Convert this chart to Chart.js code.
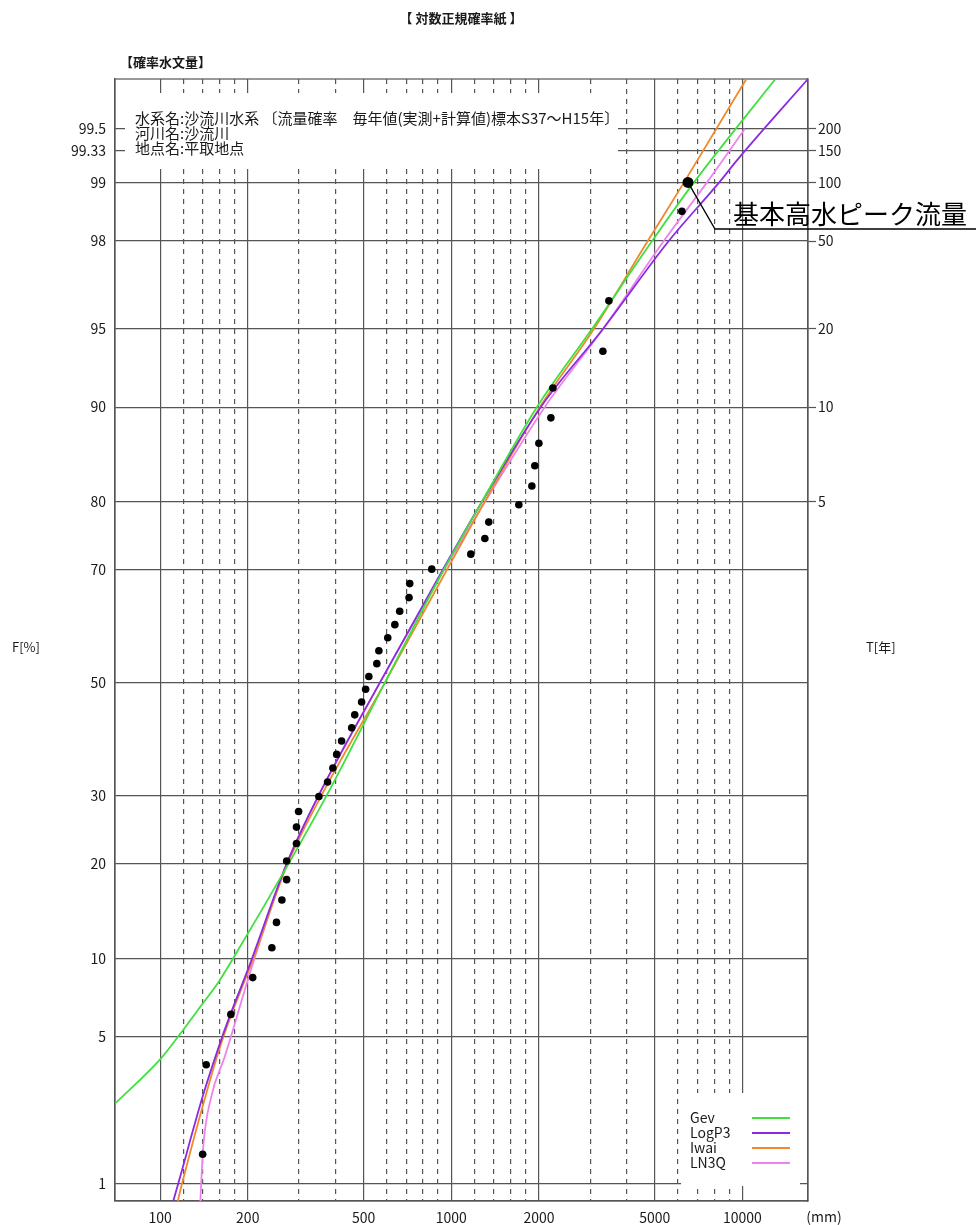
<!DOCTYPE html>
<html lang="ja">
<head>
<meta charset="UTF-8">
<title>対数正規確率紙</title>
<script src="https://cdn.jsdelivr.net/npm/chart.js"></script>
<style>
  body { margin: 0; background: #fff; }
  canvas { display: block; }
</style>
</head>
<body>
<canvas id="paper" width="976" height="1225"></canvas>
<script>
// 観測値 (Cunnane プロット位置 F[%] と流量)
const obsF = [1.42, 3.79, 6.16, 8.53, 10.90, 13.27, 15.64, 18.01, 20.38, 22.75, 25.12, 27.49, 29.86, 32.23,
  34.60, 36.97, 39.34, 41.71, 44.08, 46.45, 48.82, 51.18, 53.55, 55.92, 58.29, 60.66, 63.03, 65.40,
  67.77, 70.14, 72.51, 74.88, 77.25, 79.62, 81.99, 84.36, 86.73, 89.10, 91.47, 93.84, 96.21, 98.58];
const obsQ = [140, 144, 175, 208, 242, 251, 262, 272, 272, 294, 294, 299, 351, 376,
  392, 404, 420, 455, 466, 492, 508, 521, 555, 564, 605, 640, 665, 716,
  720, 857, 1167, 1304, 1345, 1706, 1891, 1936, 1999, 2198, 2233, 3316, 3477, 6196];

// 基本高水ピーク流量
const designF = [99];
const designQ = [6500];

// 確率分布曲線
const gevF = [2.52, 4.0, 4.98, 6.72, 8.24, 10, 20, 30, 50, 70, 80, 90, 95, 98, 99, 99.75];
const gevQ = [70, 100, 115, 139, 159, 178, 276, 373, 591, 941, 1273, 1967, 3040, 4892, 6812, 12973];
const logp3F = [0.8, 1, 2.72, 4.53, 6.13, 9.1, 20, 30, 50, 70, 80, 90, 95, 98, 99, 99.24, 99.75];
const logp3Q = [111, 115.5, 140, 159, 174, 200, 272, 350, 568, 934, 1275, 2028, 3318, 5581, 8320, 9555, 16790];
const iwaiF = [0.8, 1, 3, 5, 10, 20, 30, 50, 70, 80, 90, 95, 98, 99, 99.75];
const iwaiQ = [115, 119, 146, 165, 209, 274, 358, 591, 965, 1302, 2014, 3088, 4727, 6300, 10311];
const ln3qF = [0.8, 1.5, 2.72, 4.11, 5.33, 7.67, 10, 20, 30, 50, 70, 80, 90, 95, 98, 99, 99.5];
const ln3qQ = [137.5, 140.4, 149.9, 166.7, 177.9, 195.3, 211, 272, 350, 568, 944, 1306, 2093, 3318, 5366, 7553, 10193];

// 軸
const xGrid = [100, 120, 140, 160, 180, 200, 300, 400, 500, 600, 700, 800, 900, 1000,
  1200, 1400, 1600, 1800, 2000, 3000, 4000, 5000, 6000, 7000, 8000, 9000, 10000];
const xLabeled = [100, 200, 500, 1000, 2000, 5000, 10000];
const fTicks = [1, 5, 10, 20, 30, 50, 70, 80, 90, 95, 98, 99, 99.33, 99.5];
const tYears = [5, 10, 20, 50, 100, 150, 200];
const xMin = 70, xMax = 16790;
const fMin = 0.8, fMax = 99.75;

// 標準正規分布の逆関数 (Acklam)
function normInv(p) {
  const a = [-3.969683028665376e+01, 2.209460984245205e+02, -2.759285104469687e+02, 1.383577518672690e+02, -3.066479806614716e+01, 2.506628277459239e+00];
  const b = [-5.447609879822406e+01, 1.615858368580409e+02, -1.556989798598866e+02, 6.680131188771972e+01, -1.328068155288572e+01];
  const c = [-7.784894002430293e-03, -3.223964580411365e-01, -2.400758277161838e+00, -2.549732539343734e+00, 4.374664141464968e+00, 2.938163982698783e+00];
  const d = [7.784695709041462e-03, 3.224671290700398e-01, 2.445134137142996e+00, 3.754408661907416e+00];
  const pl = 0.02425;
  if (p < pl) {
    const q = Math.sqrt(-2 * Math.log(p));
    return (((((c[0]*q+c[1])*q+c[2])*q+c[3])*q+c[4])*q+c[5]) / ((((d[0]*q+d[1])*q+d[2])*q+d[3])*q+1);
  }
  if (p > 1 - pl) {
    const q = Math.sqrt(-2 * Math.log(1 - p));
    return -(((((c[0]*q+c[1])*q+c[2])*q+c[3])*q+c[4])*q+c[5]) / ((((d[0]*q+d[1])*q+d[2])*q+d[3])*q+1);
  }
  const q = p - 0.5, r = q * q;
  return (((((a[0]*r+a[1])*r+a[2])*r+a[3])*r+a[4])*r+a[5])*q / (((((b[0]*r+b[1])*r+b[2])*r+b[3])*r+b[4])*r+1);
}
const z = f => normInv(f / 100);
const pts = (fs, qs) => fs.map((f, i) => ({ x: qs[i], y: z(f) }));

const FONT = '"Noto Sans CJK JP", "Liberation Sans", sans-serif';
const GRID = '#555';
const INK = '#1a1a1a';

function curve(label, color, fs, qs) {
  return {
    label, data: pts(fs, qs), showLine: true, borderColor: color, backgroundColor: color,
    borderWidth: 1.8, pointRadius: 0, cubicInterpolationMode: 'monotone', isCurve: true
  };
}

// 枠・文字・凡例
const paperPlugin = {
  id: 'paper',
  beforeDatasetsDraw(chart) {
    const { ctx, chartArea: a } = chart;
    ctx.save();
    // 文字枠と凡例枠は格子を隠す
    ctx.fillStyle = '#fff';
    ctx.fillRect(125, 93, 493, 76);
    ctx.fillRect(681, 1093, 119, 93);
    ctx.strokeStyle = GRID;
    ctx.lineWidth = 1.2;
    ctx.strokeRect(a.left, a.top, a.right - a.left, a.bottom - a.top);

    ctx.fillStyle = INK;
    ctx.font = '15px ' + FONT;
    ctx.textBaseline = 'middle';
    ctx.textAlign = 'left';
    ctx.fillText('水系名:沙流川水系 〔流量確率　毎年値(実測+計算値)標本S37～H15年〕', 135, 118);
    ctx.fillText('河川名:沙流川', 135, 133);
    ctx.fillText('地点名:平取地点', 135, 148);

    // 凡例
    ctx.font = '14px ' + FONT;
    let ly = 1118;
    chart.data.datasets.filter(d => d.isCurve).forEach(d => {
      ctx.fillStyle = INK;
      ctx.fillText(d.label, 690, ly);
      ctx.strokeStyle = d.borderColor;
      ctx.lineWidth = 2.2;
      ctx.beginPath();
      ctx.moveTo(752, ly);
      ctx.lineTo(790, ly);
      ctx.stroke();
      ly += 15;
    });
    ctx.restore();
  },
  afterDraw(chart) {
    const { ctx, scales } = chart;
    ctx.save();
    ctx.fillStyle = INK;
    ctx.textBaseline = 'middle';
    ctx.font = 'bold 13px ' + FONT;
    ctx.textAlign = 'center';
    ctx.fillText('【 対数正規確率紙 】', 461, 18);
    ctx.textAlign = 'left';
    ctx.fillText('【確率水文量】', 120, 62);
    ctx.font = '13px ' + FONT;
    ctx.fillText('F[%]', 12, 647);
    ctx.fillText('T[年]', 866, 647);
    ctx.textAlign = 'center';
    ctx.font = '14px ' + FONT;
    ctx.fillText('(mm)', 824, 1217);

    // 基本高水ピーク流量 の引出線
    const px = scales.x.getPixelForValue(designQ[0]);
    const py = scales.y.getPixelForValue(z(designF[0]));
    ctx.strokeStyle = '#000';
    ctx.lineWidth = 1.3;
    ctx.beginPath();
    ctx.moveTo(px, py);
    ctx.lineTo(715, 229);
    ctx.lineTo(976, 229);
    ctx.stroke();
    ctx.fillStyle = '#000';
    ctx.font = '26px ' + FONT;
    ctx.textAlign = 'left';
    ctx.textBaseline = 'alphabetic';
    ctx.fillText('基本高水ピーク流量', 733, 224);
    ctx.restore();
  }
};

new Chart(document.getElementById('paper'), {
  type: 'scatter',
  data: {
    datasets: [
      { label: '基本高水', data: pts(designF, designQ), pointRadius: 5.5, backgroundColor: '#000', borderWidth: 0 },
      { label: '実績', data: pts(obsF, obsQ), pointRadius: 3.8, backgroundColor: '#000', borderWidth: 0 },
      curve('Gev', '#3fe03f', gevF, gevQ),
      curve('LogP3', '#8a2be2', logp3F, logp3Q),
      curve('Iwai', '#ef8a2c', iwaiF, iwaiQ),
      curve('LN3Q', '#ec84ec', ln3qF, ln3qQ)
    ]
  },
  plugins: [paperPlugin],
  options: {
    responsive: false,
    animation: false,
    events: [],
    layout: { padding: { top: 79, left: 0, right: 0, bottom: 0 } },
    plugins: { legend: { display: false }, tooltip: { enabled: false } },
    scales: {
      x: {
        type: 'logarithmic',
        min: xMin, max: xMax,
        afterBuildTicks: s => { s.ticks = xGrid.map(v => ({ value: v })); },
        afterFit: s => { s.height = 24; },
        ticks: {
          autoSkip: false, maxRotation: 0, padding: 8, color: INK,
          font: { family: FONT, size: 14 },
          callback: v => xLabeled.includes(v) ? String(v) : ''
        },
        grid: { color: GRID, lineWidth: 1.2, drawTicks: false },
        border: {
          color: GRID, width: 1.2,
          dash: c => (c.tick && !xLabeled.includes(c.tick.value)) ? [5, 5] : []
        }
      },
      y: {
        type: 'linear', position: 'left',
        min: z(fMin), max: z(fMax),
        afterBuildTicks: s => { s.ticks = fTicks.map(f => ({ value: z(f) })); },
        afterFit: s => { s.width = 115; },
        ticks: {
          autoSkip: false, padding: 9, color: INK,
          font: { family: FONT, size: 14 },
          callback: (v, i) => String(fTicks[i])
        },
        grid: { color: GRID, lineWidth: 1.2, drawTicks: false },
        border: { color: GRID, width: 1.2 }
      },
      yT: {
        type: 'linear', position: 'right',
        min: z(fMin), max: z(fMax),
        afterBuildTicks: s => { s.ticks = tYears.map(t => ({ value: z(100 * (1 - 1 / t)) })); },
        afterFit: s => { s.width = 168; },
        ticks: {
          autoSkip: false, padding: 2, color: INK,
          font: { family: FONT, size: 14 },
          callback: (v, i) => String(tYears[i])
        },
        grid: { drawOnChartArea: false, drawTicks: true, tickLength: 8, color: GRID, tickColor: GRID, tickWidth: 1.2 },
        border: { color: GRID, width: 1.2 }
      }
    }
  }
});
</script>
</body>
</html>
